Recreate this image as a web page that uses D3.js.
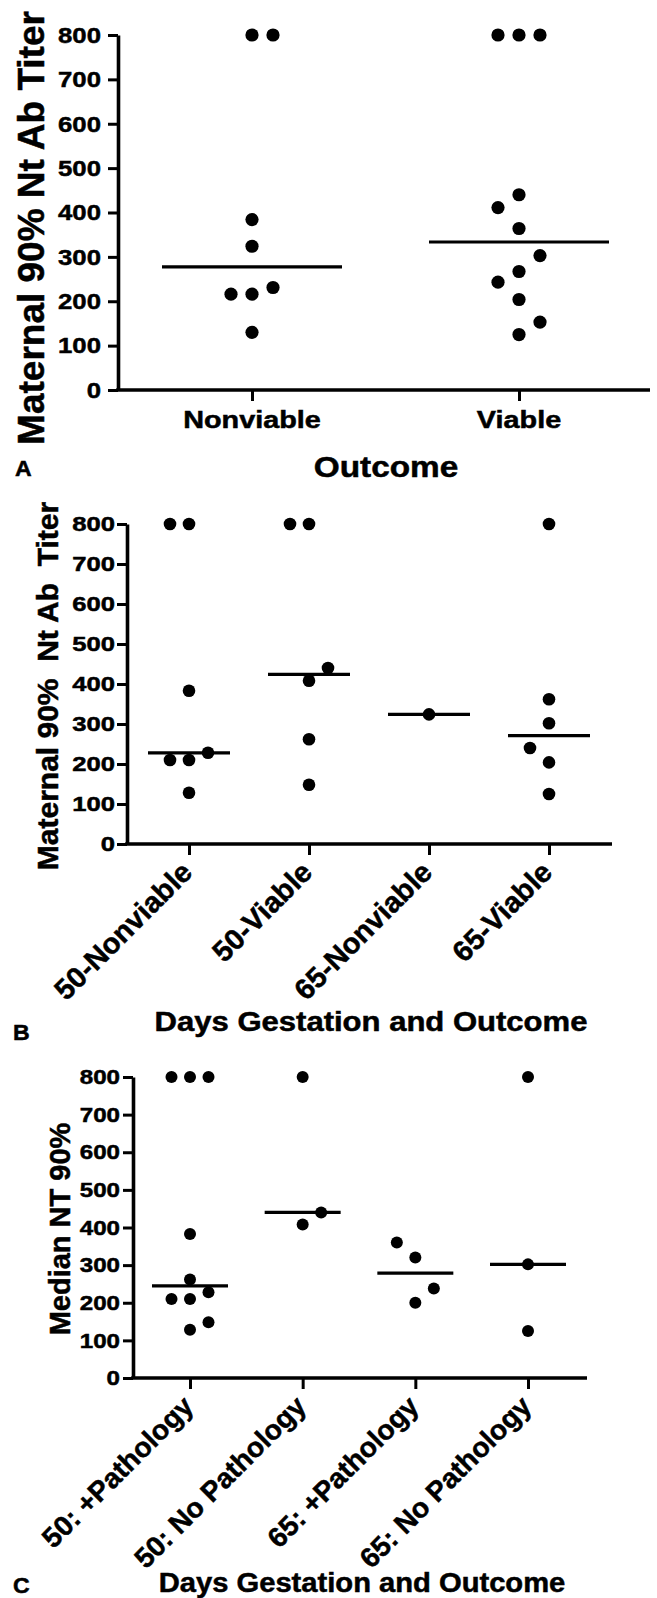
<!DOCTYPE html>
<html><head><meta charset="utf-8">
<script src="https://cdn.jsdelivr.net/npm/d3@7"></script>
<style>
body{margin:0;background:#fff}
svg{display:block}
text{font-family:"Liberation Sans",Arial,sans-serif;font-weight:bold;fill:#000;stroke:#000;stroke-width:0.5px}
</style></head><body>
<svg id="chart" width="657" height="1598"></svg>
<script>
// ---------- data ----------
const yTicks = [0,100,200,300,400,500,600,700,800];

// Panel A
const catsA = ["Nonviable","Viable"];
const aNonviable = [800,800,384,324,231,216,216,130];
const aNonviableCol = [0,1,0,0,1,-1,0,0];
const aViable = [800,800,800,440,411,364,303,267,243,204,153,125];
const aViableCol = [-1,0,1,0,-1,0,1,0,-1,0,1,0];

// Panel B
const catsB = ["50-Nonviable","50-Viable","65-Nonviable","65-Viable"];
const b50Nonviable = [800,800,383,228,210,210,128];
const b50NonviableCol = [-1,0,0,1,-1,0,0];
const b50Viable = [800,800,440,408,262,148];
const b50ViableCol = [-1,0,1,0,0,0];
const b65Nonviable = [324];
const b65NonviableCol = [0];
const b65Viable = [800,362,302,240,204,125];
const b65ViableCol = [0,0,0,-1,0,0];

// Panel C
const catsC = ["50: +Pathology","50: No Pathology","65: +Pathology","65: No Pathology"];
const c50Path = [800,800,800,383,262,228,210,210,148,128];
const c50PathCol = [-1,0,1,0,0,1,-1,0,1,0];
const c50NoPath = [800,440,408];
const c50NoPathCol = [0,1,0];
const c65Path = [360,320,238,200];
const c65PathCol = [-1,0,1,0];
const c65NoPath = [800,302,125];
const c65NoPathCol = [0,0,0];

// ---------- drawing ----------
const svg = d3.select("#chart");

function txt(g, s, x, y, size, sx, anchor, rot) {
  return g.append("text")
    .attr("transform", `translate(${x},${y}) rotate(${rot||0}) scale(${sx},1)`)
    .attr("text-anchor", anchor)
    .style("font-size", size + "px")
    .style("white-space", "pre")
    .text(s);
}

function panel(cfg, cats, groups, cols) {
  const g = svg.append("g");
  const y = d3.scaleLinear().domain([0,800]).range(cfg.yRange);
  const x = d3.scalePoint().domain(cats).range(cfg.xRange);

  // y axis
  const ya = g.append("g").attr("transform", `translate(${cfg.axisX},0)`)
    .call(d3.axisLeft(y).tickValues(yTicks).tickSize(10).tickSizeOuter(0).tickPadding(cfg.tickPad));
  ya.select(".domain").attr("stroke-width", 3.6);
  ya.selectAll(".tick line").attr("stroke-width", 3);
  ya.selectAll(".tick text")
    .attr("x", -(10 + cfg.tickPad) / cfg.tickSx)
    .attr("transform", `scale(${cfg.tickSx},1)`)
    .attr("fill", "#000")
    .style("font-size", cfg.tickFont + "px")
    .style("font-family", '"Liberation Sans",Arial,sans-serif')
    .style("font-weight", "bold");

  // x axis
  const y0 = y(0);
  g.append("line").attr("x1", cfg.axisX - 1.8).attr("x2", cfg.xEnd)
    .attr("y1", y0).attr("y2", y0).attr("stroke", "#000").attr("stroke-width", 3.6);
  const xa = g.append("g").attr("transform", `translate(0,${y0})`)
    .call(d3.axisBottom(x).tickSize(11).tickSizeOuter(0));
  xa.select(".domain").remove();
  xa.selectAll(".tick line").attr("stroke-width", 3);
  xa.selectAll(".tick text").remove();

  cats.forEach((c, i) => {
    if (cfg.rotLabels) {
      txt(g, c, x(c) + 5, y0 + 30, cfg.labFont, cfg.labSx, "end", -45);
    } else {
      txt(g, c, x(c), cfg.labY, cfg.labFont, cfg.labSx, "middle", 0);
    }
    const vals = groups[i];
    // median line
    const m = d3.median(vals);
    g.append("line").attr("x1", x(c) - cfg.medHalf).attr("x2", x(c) + cfg.medHalf)
      .attr("y1", y(m)).attr("y2", y(m)).attr("stroke", "#000").attr("stroke-width", 3.2);
    // dots
    g.selectAll(null).data(vals.map((v, j) => ({v, o: cols[i][j]}))).join("circle")
      .attr("cx", d => x(c) + d.o * cfg.spacing)
      .attr("cy", d => y(d.v))
      .attr("r", cfg.r)
      .attr("fill", "#000");
  });

  txt(g, cfg.yTitle, cfg.yTitleX, cfg.yTitleY, cfg.yTitleFont, 1, "middle", -90);
  txt(g, cfg.xTitle, cfg.xTitleX, cfg.xTitleY, cfg.xTitleFont, cfg.xTitleSx, "middle", 0);
  txt(g, cfg.letter, cfg.letterX, cfg.letterY, 22, 1.05, "start", 0);
}

panel({
  yRange: [390, 35], axisX: 118, xRange: [252, 519], xEnd: 650,
  tickPad: 7, tickSx: 1.12, tickFont: 23,
  r: 6.6, spacing: 21, medHalf: 90,
  rotLabels: false, labY: 428, labFont: 24, labSx: 1.2,
  yTitle: "Maternal 90% Nt Ab Titer", yTitleX: 44, yTitleY: 228, yTitleFont: 37,
  xTitle: "Outcome", xTitleX: 386, xTitleY: 477, xTitleFont: 29, xTitleSx: 1.15,
  letter: "A", letterX: 15, letterY: 476
}, catsA, [aNonviable, aViable], [aNonviableCol, aViableCol]);

panel({
  yRange: [844, 524], axisX: 127, xRange: [189, 549], xEnd: 612,
  tickPad: 2, tickSx: 1.22, tickFont: 21,
  r: 6.3, spacing: 19, medHalf: 41,
  rotLabels: true, labFont: 29, labSx: 1,
  yTitle: "Maternal 90%  Nt Ab  Titer", yTitleX: 58, yTitleY: 686, yTitleFont: 30,
  xTitle: "Days Gestation and Outcome", xTitleX: 371, xTitleY: 1031, xTitleFont: 27, xTitleSx: 1.15,
  letter: "B", letterX: 13, letterY: 1040
}, catsB, [b50Nonviable, b50Viable, b65Nonviable, b65Viable],
   [b50NonviableCol, b50ViableCol, b65NonviableCol, b65ViableCol]);

panel({
  yRange: [1378, 1077], axisX: 133, xRange: [190, 528], xEnd: 587,
  tickPad: 3, tickSx: 1.15, tickFont: 21,
  r: 6, spacing: 18.5, medHalf: 38,
  rotLabels: true, labFont: 28, labSx: 1,
  yTitle: "Median NT 90%", yTitleX: 70, yTitleY: 1229, yTitleFont: 29,
  xTitle: "Days Gestation and Outcome", xTitleX: 362, xTitleY: 1592, xTitleFont: 27, xTitleSx: 1.08,
  letter: "C", letterX: 13, letterY: 1593
}, catsC, [c50Path, c50NoPath, c65Path, c65NoPath],
   [c50PathCol, c50NoPathCol, c65PathCol, c65NoPathCol]);
</script>
</body></html>
